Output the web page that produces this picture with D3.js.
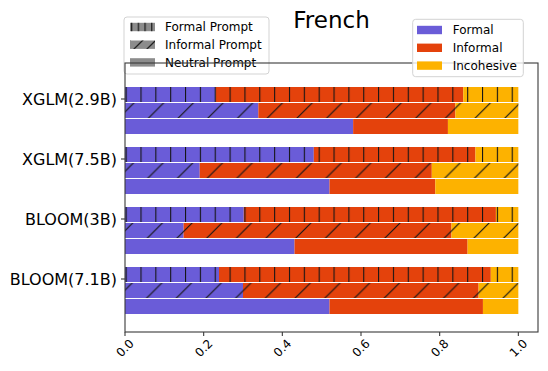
<!DOCTYPE html>
<html>
<head>
<meta charset="utf-8">
<script src="https://cdn.jsdelivr.net/npm/d3@7"></script>
<style>
  body { margin: 0; background: #fff; }
  svg { font-family: "DejaVu Sans", sans-serif; }
</style>
</head>
<body>
<div id="grafico"></div>
<script>
// dados
const modelos = ["XGLM(2.9B)", "XGLM(7.5B)", "BLOOM(3B)", "BLOOM(7.1B)"];
const prompts = ["Formal Prompt", "Informal Prompt", "Neutral Prompt"];
const classes = ["Formal", "Informal", "Incohesive"];

const formalPrompt = [
    { Formal: 0.230, Informal: 0.630, Incohesive: 0.140 },
    { Formal: 0.480, Informal: 0.411, Incohesive: 0.109 },
    { Formal: 0.302, Informal: 0.641, Incohesive: 0.057 },
    { Formal: 0.239, Informal: 0.691, Incohesive: 0.070 }
];
const informalPrompt = [
    { Formal: 0.339, Informal: 0.501, Incohesive: 0.160 },
    { Formal: 0.190, Informal: 0.590, Incohesive: 0.220 },
    { Formal: 0.149, Informal: 0.681, Incohesive: 0.170 },
    { Formal: 0.300, Informal: 0.599, Incohesive: 0.101 }
];
const neutralPrompt = [
    { Formal: 0.580, Informal: 0.241, Incohesive: 0.179 },
    { Formal: 0.520, Informal: 0.269, Incohesive: 0.211 },
    { Formal: 0.431, Informal: 0.440, Incohesive: 0.129 },
    { Formal: 0.520, Informal: 0.390, Incohesive: 0.090 }
];
const xTicks = [0, 0.2, 0.4, 0.6, 0.8, 1.0];

const cores = { Formal: "#6a5cd8", Informal: "#e4420c", Incohesive: "#fdb200" };
const hachuras = ["url(#hatchV)", "url(#hatchD)", null];

var largura = 548, altura = 371;
var esq = 125, dir = 538, topo = 63, base = 332;

var svg = d3.select("#grafico").append("svg")
    .attr("width", largura)
    .attr("height", altura);

var x = d3.scaleLinear().domain([0, 1.05]).range([esq, dir]);
// indice do modelo -> posicao vertical (60 px por grupo)
var y = d3.scaleLinear().domain([0, 3]).range([99, 279]);
var offsets = [-0.2, 0.0667, 0.3333];
var alturaBarra = y(0.2667) - y(0);

// padroes de hachura
var defs = svg.append("defs");
var pv = defs.append("pattern").attr("id", "hatchV")
    .attr("patternUnits", "userSpaceOnUse")
    .attr("x", 125.6).attr("y", 0).attr("width", 14.85).attr("height", 10);
pv.append("rect").attr("x", 0).attr("y", 0).attr("width", 1.1).attr("height", 10).attr("fill", "#151515");

var s = 29.7;
var pd = defs.append("pattern").attr("id", "hatchD")
    .attr("patternUnits", "userSpaceOnUse")
    .attr("x", 0).attr("y", 29.0).attr("width", s).attr("height", s);
pd.append("path")
    .attr("d", `M-1,${s + 1}L${s + 1},-1M-1,1L1,-1M${s - 1},${s + 1}L${s + 1},${s - 1}`)
    .attr("stroke", "#151515").attr("stroke-width", 1.2);

var lv = defs.append("pattern").attr("id", "legV")
    .attr("patternUnits", "userSpaceOnUse")
    .attr("x", 131).attr("y", 0).attr("width", 6.7).attr("height", 10);
lv.append("rect").attr("x", 0).attr("y", 0).attr("width", 1.3).attr("height", 10).attr("fill", "#222");

var ld = defs.append("pattern").attr("id", "legD")
    .attr("patternUnits", "userSpaceOnUse")
    .attr("x", 130).attr("y", 40).attr("width", 13).attr("height", 13);
ld.append("path")
    .attr("d", "M-1,14L14,-1M-1,1L1,-1M12,14L14,12")
    .attr("stroke", "#222").attr("stroke-width", 1.3);

// legenda dos prompts (fica por baixo do eixo)
var legP = svg.append("g");
legP.append("rect")
    .attr("x", 124).attr("y", 17).attr("width", 145).attr("height", 57)
    .attr("rx", 3).attr("fill", "#fff").attr("fill-opacity", 0.8)
    .attr("stroke", "#d3d3d3");
prompts.forEach((p, i) => {
    var yy = 27 + i * 17.7;
    legP.append("rect").attr("x", 130).attr("y", yy - 4.2).attr("width", 25).attr("height", 8.4)
        .attr("fill", "#8c8c8c");
    if (hachuras[i]) {
        legP.append("rect").attr("x", 130).attr("y", yy - 4.2).attr("width", 25).attr("height", 8.4)
            .attr("fill", i === 0 ? "url(#legV)" : "url(#legD)");
    }
    legP.append("text").attr("x", 165).attr("y", yy).attr("dy", "0.35em")
        .attr("font-size", "12px").attr("fill", "#000").text(p);
});

// barras empilhadas
var stack = d3.stack().keys(classes);
[formalPrompt, informalPrompt, neutralPrompt].forEach((dadosPrompt, j) => {
    var series = stack(dadosPrompt);
    var g = svg.append("g");
    series.forEach(serie => {
        g.selectAll(null)
            .data(serie)
            .enter().append("rect")
            .attr("x", d => x(d[0]))
            .attr("y", (d, i) => y(i + offsets[j]))
            .attr("width", d => x(d[1]) - x(d[0]))
            .attr("height", alturaBarra - 1)
            .attr("fill", cores[serie.key]);
    });
    if (hachuras[j]) {
        g.selectAll(null)
            .data(dadosPrompt)
            .enter().append("rect")
            .attr("x", x(0))
            .attr("y", (d, i) => y(i + offsets[j]))
            .attr("width", d => x(d.Formal + d.Informal + d.Incohesive) - x(0))
            .attr("height", alturaBarra - 1)
            .attr("fill", hachuras[j]);
    }
});

// moldura do eixo
svg.append("rect")
    .attr("x", esq).attr("y", topo).attr("width", dir - esq).attr("height", base - topo)
    .attr("fill", "none").attr("stroke", "#3a3a3a").attr("stroke-width", 1.1);

// eixo x
var eixoX = svg.append("g");
xTicks.forEach(t => {
    eixoX.append("line").attr("x1", x(t)).attr("x2", x(t)).attr("y1", base).attr("y2", base + 4)
        .attr("stroke", "#3a3a3a").attr("stroke-width", 1.1);
    eixoX.append("text")
        .attr("transform", `translate(${x(t)},${base + 16}) rotate(-45)`)
        .attr("text-anchor", "middle").attr("dy", "0.35em")
        .attr("font-size", "12px").attr("fill", "#000")
        .text(t.toFixed(1));
});

// eixo y
var eixoY = svg.append("g");
modelos.forEach((m, i) => {
    eixoY.append("line").attr("x1", esq - 4).attr("x2", esq).attr("y1", y(i)).attr("y2", y(i))
        .attr("stroke", "#3a3a3a").attr("stroke-width", 1.1);
    eixoY.append("text").attr("x", esq - 8).attr("y", y(i)).attr("dy", "0.35em")
        .attr("text-anchor", "end").attr("font-size", "16px").attr("fill", "#000")
        .text(m);
});

// titulo
svg.append("text").attr("x", (esq + dir) / 2).attr("y", 28.3)
    .attr("text-anchor", "middle").attr("font-size", "23px").attr("fill", "#000")
    .text("French");

// legenda das classes
var legC = svg.append("g");
legC.append("rect")
    .attr("x", 412.7).attr("y", 19.3).attr("width", 110.6).attr("height", 57.4)
    .attr("rx", 3).attr("fill", "#fff").attr("fill-opacity", 0.8)
    .attr("stroke", "#d3d3d3");
classes.forEach((c, i) => {
    var yy = 30 + i * 17.8;
    legC.append("rect").attr("x", 417).attr("y", yy - 4.2).attr("width", 25).attr("height", 8.4)
        .attr("fill", cores[c]);
    legC.append("text").attr("x", 452.7).attr("y", yy).attr("dy", "0.35em")
        .attr("font-size", "12px").attr("fill", "#000").text(c);
});
</script>
</body>
</html>
